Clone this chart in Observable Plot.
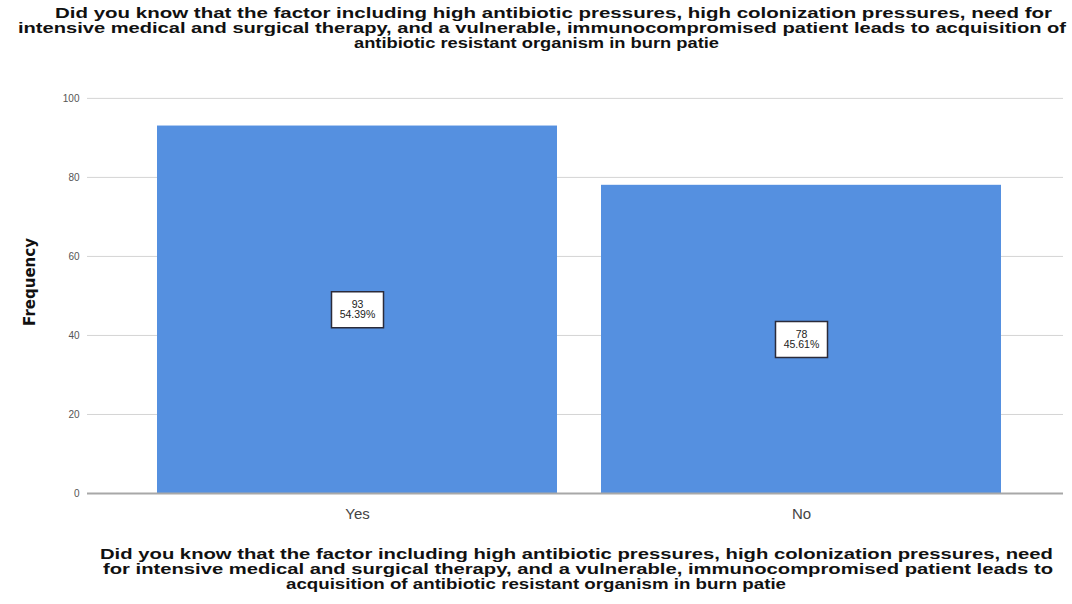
<!DOCTYPE html>
<html>
<head>
<meta charset="utf-8">
<script src="https://cdn.jsdelivr.net/npm/d3@7"></script>
<script src="https://cdn.jsdelivr.net/npm/@observablehq/plot@0.6"></script>
<style>
  html, body { margin: 0; padding: 0; background: #fff; }
  body { width: 1072px; height: 604px; overflow: hidden; font-family: Arial, "Liberation Sans", sans-serif; }
  .title { font-family: Arial, "Liberation Sans", sans-serif; font-weight: bold; font-size: 15px; line-height: 15px; color: #111; position: relative; }
  .title .ln { display: block; height: 15px; position: relative; white-space: nowrap; }
  .title .ln span { display: inline-block; position: absolute; left: 0; top: 0; transform-origin: 0 0; }
  #top { padding-top: 5px; height: 50px; width: 1072px; }
  #bottom { width: 1072px; margin-top: 21px; }
  #chart svg { display: block; }
</style>
</head>
<body>
<div id="top" class="title"></div>
<div id="chart"></div>
<div id="bottom" class="title"></div>
<script>
const topTitleLines = [
  "Did you know that the factor including high antibiotic pressures, high colonization pressures, need for",
  "intensive medical and surgical therapy, and a vulnerable, immunocompromised patient leads to acquisition of",
  "antibiotic resistant organism in burn patie"
];
const bottomTitleLines = [
  "Did you know that the factor including high antibiotic pressures, high colonization pressures, need",
  "for intensive medical and surgical therapy, and a vulnerable, immunocompromised patient leads to",
  "acquisition of antibiotic resistant organism in burn patie"
];
const categories = ["Yes", "No"];
const frequencies = [93, 78];
const percents = ["54.39%", "45.61%"];
const yTicks = [0, 20, 40, 60, 80, 100];

// title lines: horizontal spans (left, right)
const topSpans = [[55, 1052], [18, 1066], [354, 719]];
const bottomSpans = [[100, 1053], [103, 1053], [286, 786]];

function buildTitle(id, lines, spans) {
  const el = document.getElementById(id);
  lines.forEach((t, i) => {
    const ln = document.createElement("div");
    ln.className = "ln";
    const sp = document.createElement("span");
    sp.textContent = t;
    ln.appendChild(sp);
    el.appendChild(ln);
    const w = sp.getBoundingClientRect().width;
    const [a, b] = spans[i];
    sp.style.left = a + "px";
    sp.style.transform = "scaleX(" + ((b - a) / w) + ")";
  });
}
buildTitle("top", topTitleLines, topSpans);
buildTitle("bottom", bottomTitleLines, bottomSpans);

const data = categories.map((c, i) => ({
  cat: c,
  freq: frequencies[i],
  half: frequencies[i] / 2,
  label: frequencies[i] + "\n" + percents[i]
}));

const boxSymbol = {
  draw(context) {
    context.moveTo(-26, -18);
    context.lineTo(26, -18);
    context.lineTo(26, 18);
    context.lineTo(-26, 18);
    context.closePath();
  }
};

const chart = Plot.plot({
  width: 1072,
  height: 470,
  marginTop: 33,
  marginBottom: 32,
  marginLeft: 87,
  marginRight: 9,
  style: { fontFamily: "Arial, 'Liberation Sans', sans-serif", background: "#fff" },
  x: { domain: categories, padding: 0.1, paddingOuter: 0.149, align: 0.53, label: null },
  y: { domain: [0, 102.5], label: null },
  marks: [
    Plot.gridY(yTicks, { stroke: "#d4d4d4", strokeOpacity: 1, strokeWidth: 1 }),
    Plot.barY(data, { x: "cat", y: "freq", fill: "#5590e0" }),
    Plot.ruleX([0], { frameAnchor: "left", stroke: "#a8a8a8", strokeWidth: 2 }),
    Plot.ruleY([0], { stroke: "#a8a8a8", strokeWidth: 2 }),
    Plot.dot(data, { x: "cat", y: "half", symbol: boxSymbol, r: 5, fill: "#fff", stroke: "#2b2b3a", strokeWidth: 1.5 }),
    Plot.text(data, { x: "cat", y: "half", text: "label", fontSize: 10.5, fill: "#222", lineHeight: 1.0 }),
    Plot.axisY(yTicks, { tickSize: 0, tickPadding: 8, fontSize: 10, fill: "#555", label: null }),
    Plot.axisX({ tickSize: 0, tickPadding: 15, fontSize: 15, fill: "#444", label: null }),
    Plot.text(["Frequency"], { frameAnchor: "left", textAnchor: "middle", dx: -57, dy: -9, rotate: -90, fontSize: 15, fontWeight: "bold", fontFamily: "'DejaVu Sans', Arial, sans-serif", fill: "#111" })
  ]
});
document.getElementById("chart").appendChild(chart);
</script>
</body>
</html>
